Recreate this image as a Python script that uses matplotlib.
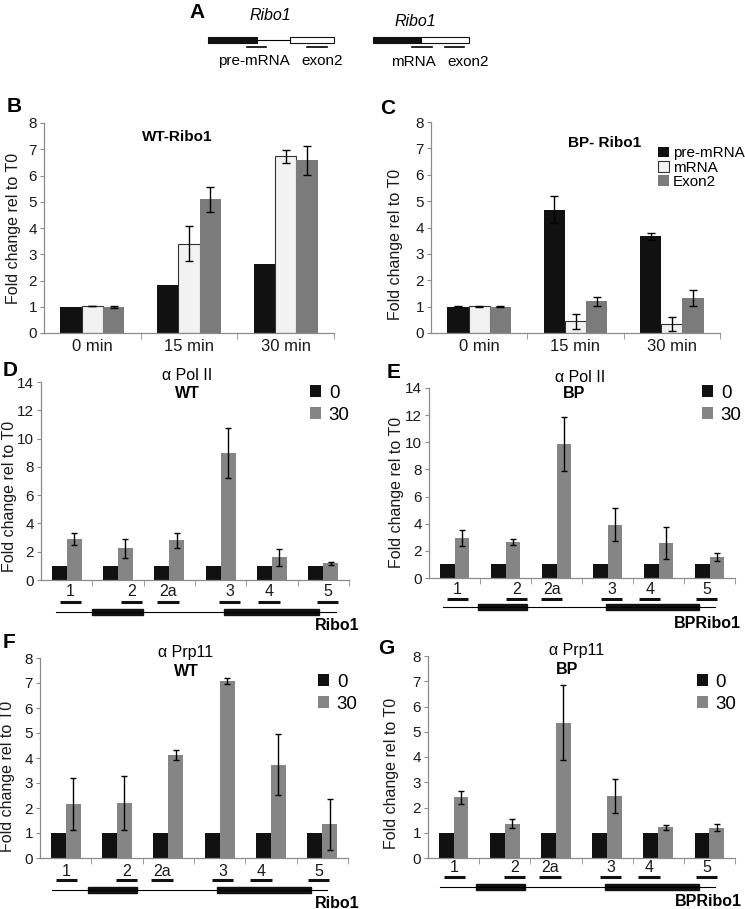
import numpy as np
import matplotlib
matplotlib.use('Agg')
import matplotlib.pyplot as plt
from matplotlib.patches import Rectangle

plt.rcParams['font.family'] = ['Liberation Sans', 'DejaVu Sans']

W, H = 745, 909

# ---- panel B / C data (RT-qPCR) ----
times = ['0 min', '15 min', '30 min']
rna_types = ['pre-mRNA', 'mRNA', 'Exon2']
wt_pre = [1.0, 1.84, 2.62]
wt_mrna = [1.02, 3.40, 6.73]
wt_mrna_err = [0.01, 0.67, 0.24]
wt_exon2 = [1.0, 5.10, 6.58]
wt_exon2_err = [0.03, 0.48, 0.55]
bp_pre = [1.0, 4.68, 3.66]
bp_pre_err = [0.02, 0.50, 0.12]
bp_mrna = [1.02, 0.45, 0.34]
bp_mrna_err = [0.02, 0.28, 0.26]
bp_exon2 = [1.0, 1.20, 1.32]
bp_exon2_err = [0.02, 0.18, 0.30]

# ---- panel D-G data (ChIP) ----
regions = ['1', '2', '2a', '3', '4', '5']
t0 = [1, 1, 1, 1, 1, 1]
pol2_wt_30 = [2.90, 2.24, 2.80, 8.96, 1.60, 1.18]
pol2_wt_err = [0.43, 0.65, 0.53, 1.78, 0.62, 0.10]
pol2_bp_30 = [2.95, 2.65, 9.85, 3.93, 2.58, 1.55]
pol2_bp_err = [0.60, 0.20, 2.00, 1.20, 1.18, 0.30]
prp11_wt_30 = [2.17, 2.20, 4.13, 7.09, 3.73, 1.35]
prp11_wt_err = [1.03, 1.07, 0.20, 0.13, 1.22, 1.03]
prp11_bp_30 = [2.40, 1.35, 5.36, 2.46, 1.22, 1.20]
prp11_bp_err = [0.27, 0.18, 1.49, 0.68, 0.10, 0.13]

# gene model for the schematics (percent of gene length)
exons = [(13, 31), (60, 94)]
probe_pos = [5.2, 27, 40, 62, 76, 97]
probe_w = 7.7

BLACK = '#111111'
LIGHT = '#f2f2f2'
GREY = '#7b7b7b'
GREY2 = '#858585'
SPINE = '#8a8a8a'
TXT = '#1a1a1a'

fig = plt.figure(figsize=(7.45, 9.09), dpi=100)


def px_axes(l, r, t, b):
    return fig.add_axes([l / W, 1 - b / H, (r - l) / W, (b - t) / H])


def style(ax, ymax, step, n, lab_center, lab_y, l, r):
    ax.set_ylim(0, ymax)
    ax.set_yticks(np.arange(0, ymax + 0.01, step))
    ax.set_xlim(-0.5, n - 0.5)
    for s in ['top', 'right']:
        ax.spines[s].set_visible(False)
    for s in ['left', 'bottom']:
        ax.spines[s].set_color(SPINE)
        ax.spines[s].set_linewidth(0.9)
    ax.tick_params(axis='y', length=3, color=SPINE, labelsize=11, labelcolor=TXT, pad=2)
    ax.set_xticks(np.arange(0.5, n, 1.0), minor=True)
    ax.tick_params(axis='x', which='minor', length=4, color=SPINE)
    ax.tick_params(axis='x', which='major', length=0, labelsize=12, labelcolor=TXT, pad=4)
    ax.set_ylabel('Fold change rel to T0', fontsize=11.5, color=TXT)
    # label anchor is its right edge once rotated
    ax.yaxis.set_label_coords((lab_center + 8 - l) / (r - l), lab_y)


def rt_panel(ax, pre, pre_err, mrna, mrna_err, exon2, exon2_err):
    x = np.arange(len(times))
    w = 0.22
    ek = dict(elinewidth=1, capsize=3, capthick=1, ecolor='black')
    b1 = ax.bar(x - w, pre, w, yerr=pre_err, color=BLACK, error_kw=ek)
    b2 = ax.bar(x, mrna, w, yerr=mrna_err, color=LIGHT, edgecolor='#333333', linewidth=0.8, error_kw=ek)
    b3 = ax.bar(x + w, exon2, w, yerr=exon2_err, color=GREY, error_kw=ek)
    ax.set_xticks(x)
    ax.set_xticklabels(times)
    return [b1, b2, b3]


def chip_panel(ax, v30, err):
    x = np.arange(len(regions))
    w = 0.29
    ek = dict(elinewidth=1, capsize=2.5, capthick=1, ecolor='black')
    b0 = ax.bar(x - w / 2, t0, w, color=BLACK)
    b30 = ax.bar(x + w / 2, v30, w, yerr=err, color=GREY2, error_kw=ek)
    ax.set_xticks(x)
    ax.set_xticklabels([])
    return [b0, b30]


# ---- B ----
axB = px_axes(44, 334, 123, 333)
rt_panel(axB, wt_pre, None, wt_mrna, wt_mrna_err, wt_exon2, wt_exon2_err)
style(axB, 8, 1, 3, 13, 0.5, 44, 334)
axB.text(0.46, 0.935, 'WT-Ribo1', transform=axB.transAxes, ha='center', va='center',
         fontsize=11, fontweight='bold')

# ---- C ----
axC = px_axes(431, 720, 122, 333)
hC = rt_panel(axC, bp_pre, bp_pre_err, bp_mrna, bp_mrna_err, bp_exon2, bp_exon2_err)
style(axC, 8, 1, 3, 395, 0.42, 431, 720)
axC.text(0.60, 0.90, 'BP- Ribo1', transform=axC.transAxes, ha='center', va='center',
         fontsize=11, fontweight='bold')
axC.legend(hC, rna_types, loc='upper left', bbox_to_anchor=(0.785, 0.885), frameon=False,
           fontsize=11, handlelength=0.7, handleheight=0.7, handletextpad=0.3,
           labelspacing=0.02, borderaxespad=0, borderpad=0)

# ---- D - G ----
chip = [
    (41, 349, 382, 580, 14, 2, pol2_wt_30, pol2_wt_err, '\u03b1 Pol II', 'WT', 9, 0.42),
    (429, 735, 388, 578, 14, 2, pol2_bp_30, pol2_bp_err, '\u03b1 Pol II', 'BP', 396, 0.45),
    (40, 348, 658, 858, 8, 1, prp11_wt_30, prp11_wt_err, '\u03b1 Prp11', 'WT', 7, 0.41),
    (428, 735, 656, 858, 8, 1, prp11_bp_30, prp11_bp_err, '\u03b1 Prp11', 'BP', 391, 0.42),
]
title_y = [(375, 393), (377, 393), (652, 672), (650, 670)]
title_x = [(187, 187), (580, 574), (186, 186), (577, 567)]
leg_xy = [(310, 385), (702, 385), (318, 674), (697, 674)]

for i, (l, r, t, b, ymax, step, v, e, t1, t2, lx, ly) in enumerate(chip):
    ax = px_axes(l, r, t, b)
    h = chip_panel(ax, v, e)
    style(ax, ymax, step, len(regions), lx, ly, l, r)
    fig.text(title_x[i][0] / W, 1 - title_y[i][0] / H, t1, ha='center', va='center', fontsize=11.5)
    fig.text(title_x[i][1] / W, 1 - title_y[i][1] / H, t2, ha='center', va='center',
             fontsize=11.5, fontweight='bold')
    fig.legend(h, ['0', '30'], loc='upper left',
               bbox_to_anchor=(leg_xy[i][0] / W, 1 - leg_xy[i][1] / H), frameon=False,
               fontsize=13.5, handlelength=0.6, handleheight=0.6, handletextpad=0.4,
               labelspacing=0.25, borderaxespad=0, borderpad=0)

# ---- overlay for schematics and panel letters ----
ov = fig.add_axes([0, 0, 1, 1], zorder=-1)
ov.set_xlim(0, W)
ov.set_ylim(H, 0)
ov.axis('off')


def gene_diagram(x0, x1, y_lab, y_probe, y_gene, name, name_x, name_y):
    s = (x1 - x0) / 100.0
    ov.plot([x0, x1], [y_gene, y_gene], color='black', lw=0.8)
    for a, bb in exons:
        ov.add_patch(Rectangle((x0 + a * s, y_gene - 3), (bb - a) * s, 6, color=BLACK))
    for lab, p in zip(regions, probe_pos):
        c = x0 + p * s
        ov.plot([c - probe_w * s / 2, c + probe_w * s / 2], [y_probe, y_probe], color=BLACK, lw=2.2,
                solid_capstyle='butt')
        ov.text(c, y_lab, lab, ha='center', va='center', fontsize=11.5, color=TXT)
    ov.text(name_x, name_y, name, ha='right', va='center', fontsize=11.5, fontweight='bold')


gene_diagram(56, 336, 591, 602, 612, 'Ribo1', 359, 625)
gene_diagram(443, 715, 590, 599, 607, 'BPRibo1', 741, 623)
gene_diagram(52, 327, 872, 880, 890, 'Ribo1', 360, 903)
gene_diagram(440, 715, 867, 877, 887, 'BPRibo1', 742, 902)

# panel A: pre-mRNA and mRNA cartoons
ov.add_patch(Rectangle((208, 37), 49, 6, facecolor=BLACK, edgecolor=BLACK, lw=0.8))
ov.plot([257, 290], [40, 40], color='black', lw=0.8)
ov.add_patch(Rectangle((290, 37), 44, 6, facecolor='white', edgecolor=BLACK, lw=0.8))
ov.plot([247, 266], [47, 47], color='black', lw=1.2)
ov.plot([307, 327], [47, 47], color='black', lw=1.2)
ov.text(270, 16, 'Ribo1', ha='center', va='center', fontsize=11.5, style='italic')
ov.text(254, 61, 'pre-mRNA', ha='center', va='center', fontsize=11)
ov.text(322, 61, 'exon2', ha='center', va='center', fontsize=11)

ov.add_patch(Rectangle((373, 37), 48, 6, facecolor=BLACK, edgecolor=BLACK, lw=0.8))
ov.add_patch(Rectangle((421, 37), 48, 6, facecolor='white', edgecolor=BLACK, lw=0.8))
ov.plot([412, 432], [47, 47], color='black', lw=1.2)
ov.plot([445, 464], [47, 47], color='black', lw=1.2)
ov.text(415, 21, 'Ribo1', ha='center', va='center', fontsize=11.5, style='italic')
ov.text(413, 62, 'mRNA', ha='center', va='center', fontsize=11)
ov.text(468, 62, 'exon2', ha='center', va='center', fontsize=11)

for letter, (lx, ly) in zip('ABCDEFG', [(197, 13), (14, 106), (388, 108), (10, 371),
                                        (394, 373), (9, 643), (386, 648)]):
    ov.text(lx, ly, letter, ha='center', va='center', fontsize=15, fontweight='bold')

fig.savefig('out.png', dpi=100)
